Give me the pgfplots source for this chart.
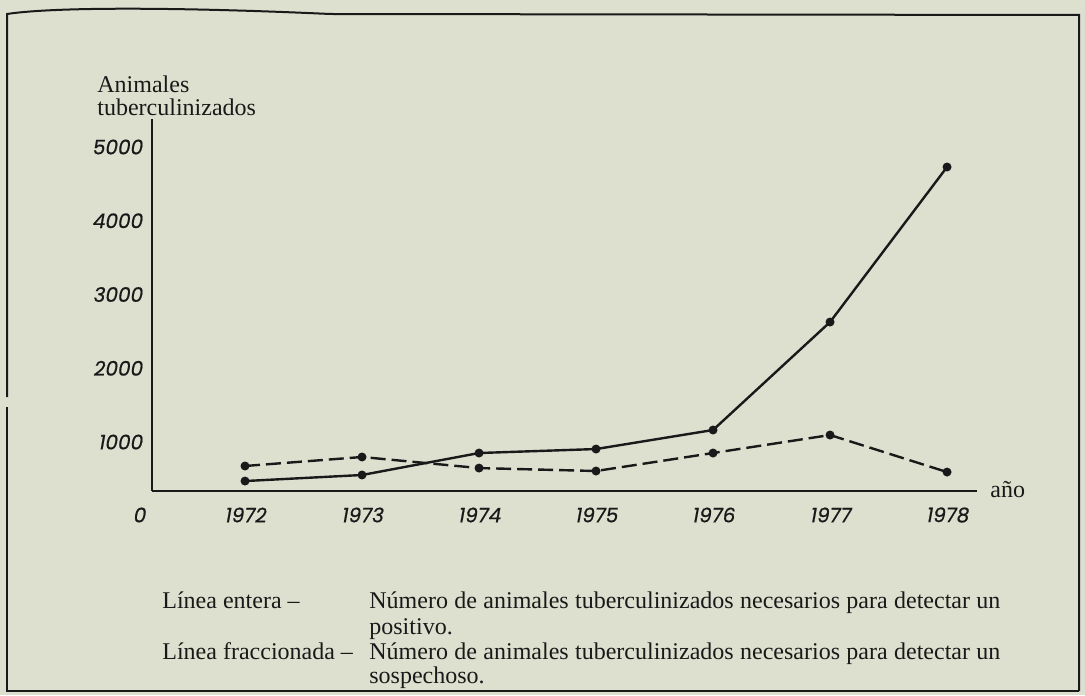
\documentclass[border=0pt]{standalone}
\usepackage{fontspec}
\setmainfont{Liberation Serif}
\newfontfamily\tickfont{Poppins}[FakeSlant=0.18, FakeBold=0.6]
\usepackage{pgfplots}
\pgfplotsset{compat=1.18}
\definecolor{paper}{RGB}{221,224,207}
\definecolor{ink}{RGB}{25,25,25}
\begin{document}
\begin{tikzpicture}[x=0.5pt,y=-0.5pt]
\fill[paper] (0,0) rectangle (1085,695);
\draw[ink, line width=1pt] (7,397) -- (7,14) .. controls (60,6) and (200,8) .. (330,14) -- (1079,15) -- (1079,691);
\draw[ink, line width=1.2pt] (7,407) -- (7,691) -- (1079,691);
\begin{axis}[
  at={(76pt,-245.5pt)}, anchor=south west,
  scale only axis, width=412.5pt, height=186pt,
  xmin=1971.205, xmax=1978.256, ymin=336, ymax=5380,
  axis x line*=bottom, axis y line*=left,
  axis line style={ink, line width=1.2pt},
  major tick length=0pt,
  xtick={1972,1973,1974,1975,1976,1977,1978},
  ytick={1000,2000,3000,4000,5000},
  /pgf/number format/1000 sep={},
  /pgf/number format/assume math mode=true,
  ticklabel style={font=\tickfont\fontsize{10}{11}\selectfont, text=ink},
  xticklabel style={anchor=center, yshift=-12pt},
  yticklabel style={anchor=east, xshift=-1.4pt},
  clip=false,
]
\addplot[ink, line width=1.2pt, mark=*, mark size=1.6pt] coordinates {
  (1972,471) (1973,553) (1974,851) (1975,905) (1976,1163) (1977,2627) (1978,4729)};
\addplot[ink, line width=1.2pt, dash pattern=on 7.5pt off 3pt, mark=*, mark size=1.6pt, mark options={solid}] coordinates {
  (1972,675) (1973,797) (1974,647) (1975,607) (1976,851) (1977,1095) (1978,593)};
\end{axis}
\node[font=\tickfont\fontsize{10}{11}\selectfont, text=ink] at (139,515) {0};
\node[anchor=west, font=\fontsize{12}{14}\selectfont, text=ink, inner sep=0pt] at (990,490) {año};
\node[anchor=west, font=\fontsize{12}{14}\selectfont, text=ink, inner sep=0pt] at (97,84) {Animales};
\node[anchor=west, font=\fontsize{12}{14}\selectfont, text=ink, inner sep=0pt] at (97,107) {tuberculinizados};
\begin{scope}[every node/.style={anchor=base west, font=\fontsize{12}{14}\selectfont, text=ink, inner sep=0pt}]
\node at (162,608) {Línea entera --};
\node at (369,608) {\makebox[315.5pt][s]{Número de animales tuberculinizados necesarios para detectar un}};
\node at (369,634) {positivo.};
\node at (162,659) {Línea fraccionada --};
\node at (369,659) {\makebox[315.5pt][s]{Número de animales tuberculinizados necesarios para detectar un}};
\node at (369,683) {sospechoso.};
\end{scope}
\end{tikzpicture}
\end{document}
